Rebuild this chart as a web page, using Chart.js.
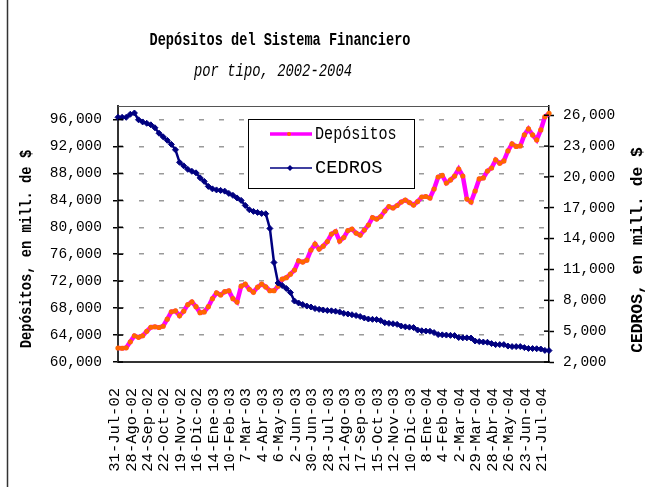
<!DOCTYPE html>
<html>
<head>
<meta charset="utf-8">
<script src="https://cdn.jsdelivr.net/npm/chart.js@4"></script>
<style>
  html, body { margin: 0; padding: 0; background: #fff; }
  canvas { display: block; }
</style>
</head>
<body>
<canvas id="chart" width="647" height="487"></canvas>
<script>
// fechas que aparecen en el eje (una cada 4 semanas)
const dateLabels = [
  "31-Jul-02", "28-Ago-02", "24-Sep-02", "22-Oct-02", "19-Nov-02", "16-Dic-02",
  "14-Ene-03", "10-Feb-03", "7-Mar-03", "4-Abr-03", "6-May-03", "2-Jun-03",
  "30-Jun-03", "28-Jul-03", "21-Ago-03", "17-Sep-03", "15-Oct-03", "12-Nov-03",
  "10-Dic-03", "8-Ene-04", "4-Feb-04", "2-Mar-04", "29-Mar-04", "28-Abr-04",
  "26-May-04", "23-Jun-04", "21-Jul-04"
];

// valores semanales (mill. de $)
const depositos = [
  62080, 62040, 62110, 63000, 63900, 63670, 63900, 64560, 65160, 65230,
  65120, 65310, 66350, 67460, 67580, 66870, 67540, 68510, 68920, 68210,
  67320, 67430, 68210, 69400, 70250, 69960, 70440, 70560, 69400, 68900,
  71260, 71550, 70800, 70360, 71110, 71550, 71150, 70590, 70590, 71260,
  72300, 72520, 73040, 73640, 75020, 74830, 75120, 76610, 77500, 76760,
  77200, 77870, 78990, 79360, 77950, 78470, 79510, 79730, 79140, 78840,
  79580, 80330, 81440, 81220, 81590, 82410, 83080, 82860, 83230, 83750,
  84040, 83670, 83300, 83820, 84490, 84570, 84340, 85680, 87460, 87690,
  86570, 87020, 87610, 88650, 87610, 84190, 83750, 85380, 87170, 87320,
  88350, 88800, 89990, 89500, 89840, 91330, 92370, 92000, 92070, 93710,
  94600, 93710, 92970, 94450, 96390, 96910
];

const cedros = [
  25800, 25800, 25800, 26100, 26220, 25560, 25350, 25220, 25070, 24780,
  24250, 23900, 23560, 23170, 22640, 21420, 21080, 20740, 20550, 20400,
  19910, 19570, 19080, 18840, 18740, 18690, 18620, 18400, 18210, 17960,
  17720, 17230, 16810, 16650, 16550, 16450, 16420, 14990, 11680, 9690,
  9440, 9150, 8760, 7930, 7740, 7590, 7440, 7350, 7200, 7120,
  7060, 7010, 6980, 6940, 6860, 6730, 6670, 6600, 6520, 6420,
  6280, 6180, 6150, 6130, 6030, 5820, 5760, 5720, 5660, 5500,
  5420, 5390, 5350, 5110, 5040, 5010, 4990, 4860, 4670, 4640,
  4620, 4590, 4570, 4380, 4350, 4350, 4330, 4040, 3990, 3940,
  3920, 3790, 3690, 3690, 3690, 3550, 3500, 3500, 3500, 3400,
  3320, 3310, 3290, 3260, 3130, 3110
];

const leftTicks = [60000, 64000, 68000, 72000, 76000, 80000, 84000, 88000, 92000, 96000];
const rightTicks = [2000, 5000, 8000, 11000, 14000, 17000, 20000, 23000, 26000];

const MONO = "'Liberation Mono', 'DejaVu Sans Mono', monospace";

// una etiqueta cada 4 puntos, el resto vacias
const categories = depositos.map((v, i) => (i % 4 === 0 ? dateLabels[i / 4] || "" : ""));

// texto estrecho: fuente mono escalada en horizontal
function drawText(ctx, s, x, y, font, sx, rot, align) {
  ctx.save();
  ctx.translate(x, y);
  if (rot) ctx.rotate(rot);
  ctx.scale(sx, 1);
  ctx.font = font;
  ctx.fillStyle = "#000";
  ctx.textAlign = align || "center";
  ctx.textBaseline = "middle";
  ctx.fillText(s, 0, 0);
  ctx.restore();
}

const decor = {
  id: "decor",
  afterDatasetsDraw(chart) {
    const ctx = chart.ctx;
    ctx.save();
    // leyenda
    ctx.fillStyle = "#fff";
    ctx.fillRect(248.5, 119.5, 166, 69);
    ctx.strokeStyle = "#000";
    ctx.lineWidth = 1;
    ctx.strokeRect(248.5, 119.5, 166, 69);

    ctx.strokeStyle = "#FF00FF";
    ctx.lineWidth = 3.5;
    ctx.beginPath();
    ctx.moveTo(270, 134);
    ctx.lineTo(312, 134);
    ctx.stroke();
    ctx.fillStyle = "#FF6600";
    ctx.beginPath();
    ctx.arc(289, 134, 2, 0, Math.PI * 2);
    ctx.fill();

    ctx.strokeStyle = "#000080";
    ctx.lineWidth = 1.5;
    ctx.beginPath();
    ctx.moveTo(270, 168);
    ctx.lineTo(312, 168);
    ctx.stroke();
    ctx.fillStyle = "#000080";
    ctx.beginPath();
    ctx.moveTo(290, 165);
    ctx.lineTo(293, 168);
    ctx.lineTo(290, 171);
    ctx.lineTo(287, 168);
    ctx.closePath();
    ctx.fill();
    ctx.restore();

    drawText(ctx, "Depósitos", 315, 134, "18px " + MONO, 0.84, 0, "left");
    drawText(ctx, "CEDROS", 315, 168, "18px " + MONO, 1.04, 0, "left");
  },
  afterDraw(chart) {
    const ctx = chart.ctx;
    const a = chart.chartArea;
    ctx.save();
    // borde izquierdo del grafico
    ctx.strokeStyle = "#333";
    ctx.lineWidth = 1.5;
    ctx.beginPath();
    ctx.moveTo(7.5, 0);
    ctx.lineTo(7.5, 487);
    ctx.stroke();
    // borde superior del area de trazado
    ctx.strokeStyle = "#555";
    ctx.lineWidth = 1.2;
    ctx.beginPath();
    ctx.moveTo(a.left, a.top + 0.5);
    ctx.lineTo(a.right, a.top + 0.5);
    ctx.stroke();
    // marcas que cruzan los ejes
    ctx.strokeStyle = "#000";
    ctx.lineWidth = 1.5;
    const yl = chart.scales.y, yr = chart.scales.y1;
    leftTicks.forEach(v => {
      const p = yl.getPixelForValue(v);
      ctx.beginPath();
      ctx.moveTo(a.left, p);
      ctx.lineTo(a.left + 5, p);
      ctx.stroke();
    });
    rightTicks.forEach(v => {
      const p = yr.getPixelForValue(v);
      ctx.beginPath();
      ctx.moveTo(a.right - 5, p);
      ctx.lineTo(a.right, p);
      ctx.stroke();
    });
    ctx.restore();

    drawText(ctx, "Depósitos del Sistema Financiero", 280, 40, "bold 18px " + MONO, 0.755);
    drawText(ctx, "por tipo, 2002-2004", 273, 71, "italic 18px " + MONO, 0.77);
    drawText(ctx, "Depósitos, en mill. de $", 27, 249, "bold 17px " + MONO, 0.81, -Math.PI / 2);
    drawText(ctx, "CEDROS, en mill. de $", 638, 250, "bold 17px " + MONO, 0.96, -Math.PI / 2);
  }
};

const ctx = document.getElementById("chart").getContext("2d");
new Chart(ctx, {
  type: "line",
  data: {
    labels: categories,
    datasets: [
      {
        label: "Depósitos",
        data: depositos,
        yAxisID: "y",
        order: 2,
        borderColor: "#FF00FF",
        borderWidth: 4.5,
        pointRadius: 2.6,
        pointBackgroundColor: "#FF6600",
        pointBorderWidth: 0,
        tension: 0
      },
      {
        label: "CEDROS",
        data: cedros,
        yAxisID: "y1",
        order: 1,
        borderColor: "#000080",
        borderWidth: 2.5,
        pointStyle: "rectRot",
        pointRadius: 3,
        pointBackgroundColor: "#000080",
        pointBorderColor: "#000080",
        pointBorderWidth: 1,
        tension: 0
      }
    ]
  },
  options: {
    responsive: false,
    animation: false,
    layout: { padding: { top: 106, left: 0, right: 0, bottom: 0 } },
    plugins: {
      legend: { display: false },
      tooltip: { enabled: false }
    },
    scales: {
      x: {
        grid: { display: false, drawTicks: false },
        border: { color: "#333", width: 2 },
        ticks: {
          autoSkip: false,
          maxRotation: 90,
          minRotation: 90,
          padding: 26,
          labelOffset: -3,
          color: "#000",
          font: { family: MONO, size: 15.5 }
        },
        afterFit: (s) => { s.height = 125; }
      },
      y: {
        position: "left",
        min: 60000,
        max: 98000,
        afterBuildTicks: (s) => { s.ticks = leftTicks.map(v => ({ value: v })); },
        grid: {
          color: "#9a9a9a",
          lineWidth: 1.5,
          tickColor: "#000",
          tickLength: 5,
          tickWidth: 1.5,
          tickBorderDash: []
        },
        border: { color: "#333", width: 2, dash: [5, 15] },
        ticks: {
          padding: 11,
          color: "#000",
          font: { family: MONO, size: 14.5 },
          callback: (v) => v.toLocaleString("en-US")
        },
        afterFit: (s) => { s.width = 118; }
      },
      y1: {
        position: "right",
        min: 2000,
        max: 26900,
        afterBuildTicks: (s) => { s.ticks = rightTicks.map(v => ({ value: v })); },
        grid: {
          drawOnChartArea: false,
          tickColor: "#000",
          tickLength: 5,
          tickWidth: 1.5
        },
        border: { color: "#000", width: 1.5 },
        ticks: {
          padding: 9,
          color: "#000",
          font: { family: MONO, size: 14.5 },
          callback: (v) => v.toLocaleString("en-US")
        },
        afterFit: (s) => { s.width = 98; }
      }
    }
  },
  plugins: [decor]
});
</script>
</body>
</html>
